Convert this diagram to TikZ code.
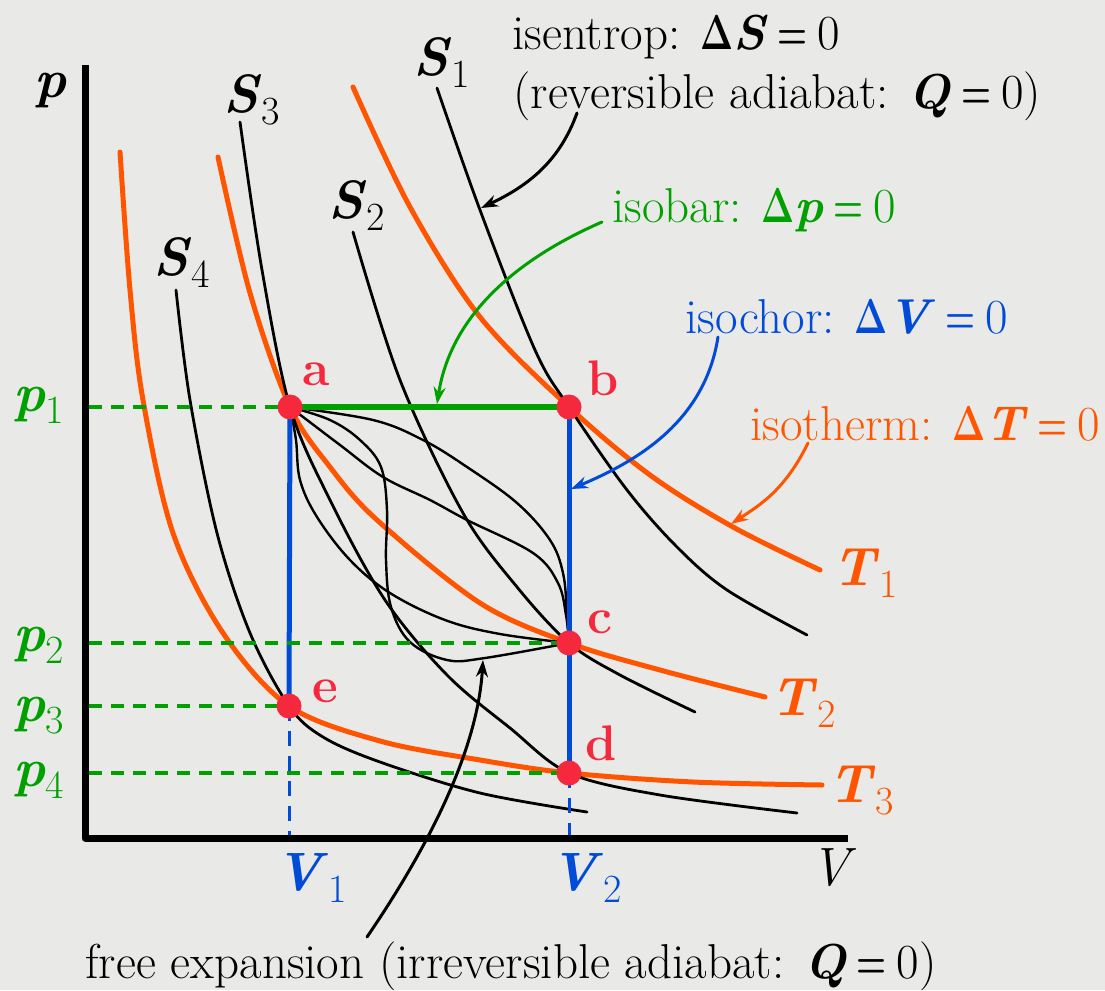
\RequirePackage{fix-cm}
\documentclass[tikz,border=0pt]{standalone}
\usetikzlibrary{arrows.meta}
\definecolor{orng}{RGB}{255,85,0}
\definecolor{grn}{RGB}{0,160,0}
\definecolor{blu}{RGB}{0,75,215}
\definecolor{rd}{RGB}{245,40,62}
\definecolor{bgc}{RGB}{233,233,231}
\newcommand{\vsub}[2]{\textbf{\textit{#1}}\raisebox{-12pt}{\fontsize{40}{40}\selectfont #2}}
\newcommand{\dlt}{\scalebox{0.72}[1]{$\mathbf{\Delta}$}}
\newcommand{\eqz}{\hspace{10pt}\scalebox{0.7}[1]{\textbf{=}}\hspace{10pt}0}
\begin{document}
\begin{tikzpicture}[x=1pt,y=-1pt,line join=round,line cap=round,>={Stealth[length=17pt,width=12pt]},thick]
\tikzset{every node/.style={inner sep=0pt,anchor=base west,font=\fontsize{49}{54}\selectfont},
  isoT/.style={orng,line width=5pt},
  adia/.style={black,line width=2.8pt},
  irr/.style={black,line width=2.4pt},
  pdash/.style={grn,line width=4pt,line cap=butt,dash pattern=on 13pt off 9pt},
  vdash/.style={blu,line width=3pt,line cap=butt,dash pattern=on 15pt off 10pt},
  state/.style={circle,fill=rd,minimum size=25pt,anchor=center},
  statelbl/.style={rd,font=\fontsize{50}{50}\selectfont\bfseries},
  mlbl/.style={font=\fontsize{54}{54}\selectfont},
  note/.style={line width=3pt}}
\fill[bgc] (0,0) rectangle (1105,990);
\useasboundingbox (0,0) rectangle (1105,990);
% axes
\draw[line width=7pt,line cap=butt] (85,65)--(85,838)--(848,838);
\node[mlbl] (plbl) at (34,97) {\textbf{\textit{p}}};
\node[mlbl] (Vlbl) at (810,885) {\textit{V}};
% states
\coordinate (a) at (290,407);
\coordinate (b) at (569,407);
\coordinate (c) at (569,643);
\coordinate (d) at (569,773);
\coordinate (e) at (289,706);
% isotherms
\draw[isoT] plot[smooth,tension=0.55] coordinates {(353,87) (410,207) (480,317) (569,407) (650,475) (733,527) (820,570)};
\draw[isoT] plot[smooth,tension=0.55] coordinates {(218,157) (250,293) (290,407) (330,467) (377,520) (480,603) (569,643) (660,670) (765,697)};
\draw[isoT] plot[smooth,tension=0.55] coordinates {(120,152) (130,290) (143,400) (173,533) (223,633) (289,706) (380,741) (480,760) (569,773) (693,782) (822,785)};
% isentropes
\draw[adia] plot[smooth,tension=0.55] coordinates {(437,88) (480,210) (535,350) (569,407) (627,490) (677,547) (727,590) (807,635)};
\draw[adia] plot[smooth,tension=0.55] coordinates {(353,232) (400,380) (463,513) (517,587) (569,643) (620,675) (695,712)};
\draw[adia] plot[smooth,tension=0.55] coordinates {(240,122) (262,270) (290,407) (330,500) (385,600) (447,675) (510,728) (569,773) (660,795) (797,813)};
\draw[adia] plot[smooth,tension=0.55] coordinates {(176,290) (190,400) (217,533) (250,633) (289,706) (323,737) (380,762) (480,793) (587,812)};
% irreversible paths a -> c
\draw[irr] plot[smooth,tension=0.6] coordinates {(290,407) (373,420) (423,440) (467,467) (517,503) (550,540) (563,573) (567,613) (569,643)};
\draw[irr] plot[smooth,tension=0.6] coordinates {(290,407) (340,445) (383,477) (430,500) (467,520) (533,553) (558,583) (566,615) (569,643)};
\draw[irr] plot[smooth,tension=0.6] coordinates {(290,407) (296,440) (300,480) (317,517) (350,560) (390,593) (445,620) (500,634) (569,643)};
\draw[irr] plot[smooth,tension=0.6] coordinates {(290,407) (330,420) (360,440) (381,467) (387,510) (386,560) (391,607) (410,642) (447,660) (485,658) (569,643)};
% processes
\draw[grn,line width=6pt] (a)--(b);
\draw[blu,line width=5pt] (a)--(e);
\draw[blu,line width=5pt] (b)--(d);
\foreach \s in {a,c,e,d}
  \draw[pdash] (89,0|-\s)--(\s);
\foreach \s in {e,d}
  \draw[vdash] (\s)--(\s|-0,835);
\foreach \s in {a,b,c,d,e}
  \node[state] (\s dot) at (\s) {};
\node[statelbl] (albl) at (302,385) {a};
\node[statelbl] (blbl) at (587,395) {b};
\node[statelbl] (clbl) at (587,633) {c};
\node[statelbl] (dlbl) at (585,760) {d};
\node[statelbl] (elbl) at (312,702) {e};
% axis labels
\foreach \n/\y in {1/411,2/651,3/721,4/786}
  \node[mlbl,grn] (p\n) at (13,\y) {\vsub{p}{\n}};
\node[mlbl,blu] (V1) at (275,890) {\vsub{V}{1}};
\node[mlbl,blu] (V2) at (550,890) {\vsub{V}{2}};
\node[mlbl] (S1) at (413,75) {\vsub{S}{1}};
\node[mlbl] (S2) at (328,218) {\vsub{S}{2}};
\node[mlbl] (S3) at (223,112) {\vsub{S}{3}};
\node[mlbl] (S4) at (153,275) {\vsub{S}{4}};
\node[mlbl,orng] (T1) at (832,585) {\vsub{T}{1}};
\node[mlbl,orng] (T2) at (770,715) {\vsub{T}{2}};
\node[mlbl,orng] (T3) at (828,802) {\vsub{T}{3}};
% notes
\node (isen) at (512,50) {isentrop: \dlt\textbf{\textit{S}}\eqz};
\node (rev) at (513,108) {(reversible adiabat: \textbf{\textit{Q}}\eqz)};
\node[grn] (isob) at (612,222) {isobar: \dlt\textbf{\textit{p}}\eqz};
\node[blu] (isoc) at (685,333) {isochor: \dlt\textbf{\textit{V}}\eqz};
\node[orng] (isot) at (750,440) {isotherm: \dlt\textbf{\textit{T}}\eqz};
\node (free) at (85,978) {free expansion (irreversible adiabat: \textbf{\textit{Q}}\eqz)};
\coordinate (isenA) at (577,113);
\coordinate (isenB) at (481,208);
\coordinate (isobA) at (602,222);
\coordinate (isobB) at (437,404);
\coordinate (isocA) at (718,337);
\coordinate (isocB) at (571,489);
\coordinate (isotA) at (808,443);
\coordinate (isotB) at (731,524);
\coordinate (freeA) at (367,937);
\coordinate (freeB) at (483,660);
\draw[note,->] (isenA) .. controls (560,160) and (530,185) .. (isenB);
\draw[note,grn,->] (isobA) .. controls (510,262) and (450,320) .. (isobB);
\draw[note,blu,->] (isocA) .. controls (705,420) and (640,460) .. (isocB);
\draw[note,orng,->] (isotA) .. controls (785,490) and (760,505) .. (isotB);
\draw[note,->] (freeA) .. controls (440,830) and (478,740) .. (freeB);
\end{tikzpicture}
\end{document}
